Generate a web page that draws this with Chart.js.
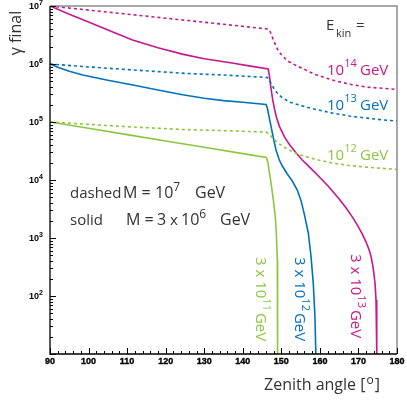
<!DOCTYPE html>
<html>
<head>
<meta charset="utf-8">
<script src="https://cdn.jsdelivr.net/npm/chart.js@4.4.1/dist/chart.umd.min.js"></script>
<style>
  html, body { margin: 0; padding: 0; background: #fff; }
  #wrap { width: 407px; height: 400px; }
</style>
</head>
<body>
<div id="wrap"><canvas id="chart" width="407" height="400"></canvas></div>
<script>
// Final Lorentz factor vs zenith angle, three kinetic energies, two masses
const xRange = [90, 180];
const yRange = [10, 1e7];
const xMajorTicks = [90, 100, 110, 120, 130, 140, 150, 160, 170, 180];
const yDecades = [2, 3, 4, 5, 6, 7];

// magenta: E_kin = 3e13 GeV with M = 3e6 GeV (solid), 1e14 GeV with M = 1e7 GeV (dashed)
const magSolidX = [90, 95, 100, 105, 111.4, 118, 124.3, 130, 137.2, 142, 146.6, 146.9, 147.2, 147.5, 147.8, 148.2, 148.7, 149.48, 150.77, 152.06, 153.8, 155.43, 157.24, 159.82, 162.41, 165, 166.8, 168.36, 169.65, 170.94, 171.98, 172.75, 173.27, 173.79, 174.3, 174.56, 174.7, 174.8];
const magSolidY = [1e7, 7.2e6, 5.3e6, 3.85e6, 2.6e6, 1.9e6, 1.48e6, 1.23e6, 1.04e6, 9.2e5, 8.2e5, 6.3e5, 4.37e5, 3.16e5, 2.34e5, 1.7e5, 1.23e5, 8.5e4, 5.6e4, 4.12e4, 2.95e4, 2.21e4, 1.68e4, 1.14e4, 7.5e3, 4.72e3, 3.29e3, 2.34e3, 1.7e3, 1.19e3, 851, 631, 479, 316, 167, 85, 32, 10];
const magDashX = [90, 100, 111.4, 124.3, 135, 146.63, 147.15, 147.93, 148.96, 150.25, 152.06, 154.65, 158.53, 163.18, 167.58, 171.98, 176.63, 180];
const magDashY = [1e7, 8.5e6, 7.08e6, 5.75e6, 4.84e6, 4e6, 3.56e6, 2.6e6, 1.82e6, 1.37e6, 1.08e6, 8.9e5, 6.7e5, 5.3e5, 4.5e5, 4e5, 3.8e5, 3.63e5];

// blue: 3e12 GeV (solid), 1e13 GeV (dashed)
const bluSolidX = [90, 92, 95, 98.5, 105, 111.5, 118, 124.4, 130, 135, 140, 146.04, 146.37, 146.89, 147.41, 147.93, 148.62, 149.48, 150.25, 151.55, 152.84, 154.13, 155.08, 155.94, 156.99, 157.69, 158.28, 158.72, 158.95];
const bluSolidY = [1e6, 8.8e5, 7.5e5, 6.46e5, 5.25e5, 4.35e5, 3.55e5, 2.95e5, 2.57e5, 2.34e5, 2.19e5, 2e5, 1.74e5, 1.17e5, 7.9e4, 5.3e4, 3.29e4, 2.21e4, 1.74e4, 1.27e4, 9.6e3, 6.7e3, 4.5e3, 2.6e3, 1.22e3, 490, 167, 44, 10];
const bluDashX = [90, 100, 111.4, 125, 135, 146.37, 146.89, 147.67, 148.7, 149.99, 152.06, 154.65, 158.53, 163.18, 167.58, 171.98, 176.63, 180];
const bluDashY = [1e6, 8.9e5, 7.9e5, 6.9e5, 6.46e5, 5.85e5, 5.3e5, 4.18e5, 3.29e5, 2.7e5, 2.21e5, 1.96e5, 1.67e5, 1.43e5, 1.27e5, 1.17e5, 1.08e5, 1.04e5];

// green: 3e11 GeV (solid), 1e12 GeV (dashed)
const grnSolidX = [90, 100, 110, 120, 130, 140, 146.11, 146.5, 146.89, 147.33, 147.93, 148.44, 148.7, 148.96, 149.0, 149.03, 149.05];
const grnSolidY = [1e5, 7.78e4, 6.05e4, 4.71e4, 3.66e4, 2.85e4, 2.44e4, 2.04e4, 1.37e4, 8.9e3, 4.5e3, 2.3e3, 1.22e3, 418, 127, 38.5, 10];
const grnDashX = [90, 100, 111.4, 125, 135, 146.11, 146.89, 147.93, 149.48, 151.55, 154.13, 158.53, 163.18, 167.58, 171.98, 176.63, 180];
const grnDashY = [1e5, 9.1e4, 8.2e4, 7.4e4, 7.1e4, 6.7e4, 6.2e4, 5.1e4, 4.18e4, 3.42e4, 2.8e4, 2.3e4, 1.96e4, 1.78e4, 1.67e4, 1.58e4, 1.52e4];

const MAGENTA = '#c8168c';
const BLUE = '#0072bc';
const GREEN = '#8cc63f';
const TEXT = '#333333';
const SANS = '"Open Sans", "DejaVu Sans", sans-serif';
const TICKFONT = 'bold 9px "Liberation Sans", Arial, sans-serif';
const TICKSUP = 'bold 7px "Liberation Sans", Arial, sans-serif';
const BIG = '15px ' + SANS;
const SMALL = '11px ' + SANS;
const MASS = '16px ' + SANS;
const MASS_SUP = '12px ' + SANS;

const pts = (xs, ys) => xs.map((x, i) => ({ x: x, y: ys[i] }));

function curve(xs, ys, color, dashed) {
  return {
    data: pts(xs, ys),
    borderColor: color,
    borderWidth: 1.6,
    borderDash: dashed ? [3, 3] : [],
    pointRadius: 0,
    fill: false,
    tension: 0
  };
}

// draws "base" followed by a raised exponent, returns end x
function supText(ctx, base, sup, x, y, size, supSize, rise) {
  ctx.font = size;
  ctx.textAlign = 'left';
  ctx.fillText(base, x, y);
  const w = ctx.measureText(base).width;
  ctx.font = supSize;
  ctx.fillText(sup, x + w, y - rise);
  return x + w + ctx.measureText(sup).width;
}

const axesPlugin = {
  id: 'axesPlugin',
  afterDraw(chart) {
    const { ctx, chartArea: a, scales: { x, y } } = chart;
    ctx.save();

    // grey top and right frame
    ctx.strokeStyle = '#8c8c8c';
    ctx.lineWidth = 1.5;
    ctx.beginPath();
    ctx.moveTo(a.left, a.top);
    ctx.lineTo(a.right, a.top);
    ctx.lineTo(a.right, a.bottom);
    ctx.stroke();

    // black left and bottom axes
    ctx.strokeStyle = '#000';
    ctx.lineWidth = 1.3;
    ctx.beginPath();
    ctx.moveTo(a.left, a.top);
    ctx.lineTo(a.left, a.bottom);
    ctx.lineTo(a.right, a.bottom);
    ctx.stroke();

    // x ticks: major every 10, minor every 2
    ctx.lineWidth = 1;
    ctx.beginPath();
    for (let v = xRange[0]; v <= xRange[1]; v += 2) {
      const px = Math.round(x.getPixelForValue(v)) + 0.5;
      const len = v % 10 === 0 ? 6 : 3;
      ctx.moveTo(px, a.bottom);
      ctx.lineTo(px, a.bottom - len);
    }
    // y ticks: decades plus 2..9 minor
    for (let e = 1; e <= 7; e++) {
      for (let m = 1; m <= 9; m++) {
        const v = m * Math.pow(10, e);
        if (v > yRange[1]) break;
        const py = Math.round(y.getPixelForValue(v)) + 0.5;
        ctx.moveTo(a.left, py);
        ctx.lineTo(a.left + (m === 1 ? 6 : 3), py);
      }
    }
    ctx.stroke();

    // tick labels, slightly heavier than plain bold
    ctx.fillStyle = '#000';
    ctx.strokeStyle = '#000';
    ctx.lineWidth = 0.35;
    ctx.textBaseline = 'middle';
    ctx.font = TICKFONT;
    ctx.textAlign = 'center';
    xMajorTicks.forEach(v => {
      const px = x.getPixelForValue(v);
      ctx.fillText(String(v), px, a.bottom + 8);
      ctx.strokeText(String(v), px, a.bottom + 8);
    });
    yDecades.forEach(e => {
      const py = y.getPixelForValue(Math.pow(10, e));
      supText(ctx, '10', String(e), 29, py + 1, TICKFONT, TICKSUP, 4);
    });

    // axis titles
    ctx.fillStyle = TEXT;
    ctx.textBaseline = 'alphabetic';
    ctx.save();
    ctx.translate(21, 33);
    ctx.rotate(-Math.PI / 2);
    ctx.font = '16px ' + SANS;
    ctx.textAlign = 'center';
    ctx.fillText('γ final', 0, 0);
    ctx.restore();

    ctx.font = '16px ' + SANS;
    ctx.textAlign = 'left';
    const title = 'Zenith angle [';
    let tx = 264;
    ctx.fillText(title, tx, 390);
    tx += ctx.measureText(title).width;
    ctx.font = '12px ' + SANS;
    ctx.fillText('o', tx + 1, 384);
    tx += ctx.measureText('o').width + 2;
    ctx.font = '16px ' + SANS;
    ctx.fillText(']', tx, 390);

    // energy legend
    ctx.font = BIG;
    ctx.fillText('E', 326, 30);
    ctx.font = SMALL;
    ctx.fillText('kin', 336, 37);
    ctx.font = BIG;
    ctx.fillText('=', 356, 30);

    const eLabels = [['14', MAGENTA, 75], ['13', BLUE, 110], ['12', GREEN, 160]];
    eLabels.forEach(([exp, col, by]) => {
      ctx.fillStyle = col;
      const ex = supText(ctx, '10', exp, 327, by, BIG, SMALL, 8);
      ctx.font = BIG;
      ctx.fillText('GeV', Math.max(ex + 2, 360), by);
    });

    // mass legend
    ctx.fillStyle = TEXT;
    ctx.font = BIG;
    ctx.fillText('dashed', 70, 198);
    ctx.fillText('solid', 70, 225);
    ctx.font = MASS;
    ctx.fillText('M =', 123, 198);
    supText(ctx, '10', '7', 155, 198, MASS, MASS_SUP, 7);
    ctx.font = MASS;
    ctx.fillText('GeV', 195, 198);

    ctx.fillText('M =', 126, 225);
    ctx.fillText('3', 157, 225);
    ctx.font = BIG;
    ctx.fillText('x', 170, 225);
    supText(ctx, '10', '6', 181, 225, MASS, MASS_SUP, 7);
    ctx.font = MASS;
    ctx.fillText('GeV', 220, 225);

    // vertical labels for the solid curves
    const vLabels = [['11', GREEN, 256, 257], ['12', BLUE, 295, 257], ['13', MAGENTA, 351, 254]];
    vLabels.forEach(([exp, col, lx, ly]) => {
      ctx.save();
      ctx.translate(lx, ly);
      ctx.rotate(Math.PI / 2);
      ctx.fillStyle = col;
      ctx.font = BIG;
      ctx.fillText('3 x ', 0, 0);
      let sx = ctx.measureText('3 x ').width;
      sx = supText(ctx, '10', exp, sx, 0, BIG, SMALL, 7);
      ctx.font = BIG;
      ctx.fillText('GeV', sx + 2, 0);
      ctx.restore();
    });

    ctx.restore();
  }
};

new Chart(document.getElementById('chart'), {
  type: 'line',
  data: {
    datasets: [
      curve(magDashX, magDashY, MAGENTA, true),
      curve(bluDashX, bluDashY, BLUE, true),
      curve(grnDashX, grnDashY, GREEN, true),
      curve(magSolidX, magSolidY, MAGENTA, false),
      curve(bluSolidX, bluSolidY, BLUE, false),
      curve(grnSolidX, grnSolidY, GREEN, false)
    ]
  },
  options: {
    responsive: false,
    animation: false,
    layout: { padding: { left: 50, right: 10, top: 6, bottom: 46 } },
    plugins: { legend: { display: false }, tooltip: { enabled: false } },
    scales: {
      x: { type: 'linear', min: xRange[0], max: xRange[1], display: false },
      y: { type: 'logarithmic', min: yRange[0], max: yRange[1], display: false }
    }
  },
  plugins: [axesPlugin]
});
</script>
</body>
</html>
